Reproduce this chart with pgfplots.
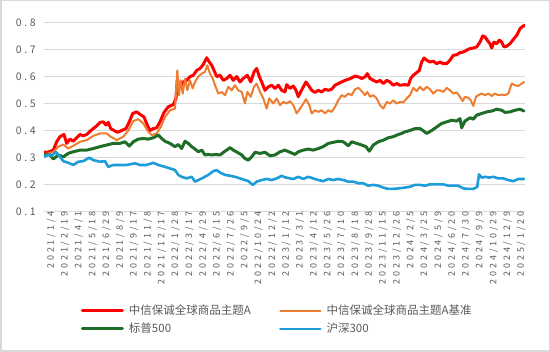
\documentclass[border=0pt]{standalone}
\usepackage{pgfplots}
\pgfplotsset{compat=1.18}
\usepackage{fontspec}
\setmainfont{Noto Sans CJK SC}
\newfontfamily\tickfont[LetterSpace=32]{Noto Sans CJK SC}
\newfontfamily\ytickfont[LetterSpace=26]{Noto Sans CJK SC}
\definecolor{cred}{HTML}{FF0000}
\definecolor{corange}{HTML}{ED7D31}
\definecolor{cgreen}{HTML}{1E6E28}
\definecolor{cblue}{HTML}{1C9DDA}
\definecolor{cgrid}{HTML}{D9D9D9}
\definecolor{ctext}{HTML}{595959}
\begin{document}
\begin{tikzpicture}
\useasboundingbox (0pt,0pt) rectangle (550pt,352pt);
\draw[cgrid, line width=1.5pt] (0.75pt,0.75pt) rectangle (549.25pt,351.25pt);
\begin{axis}[
  at={(44pt,140.7pt)}, anchor=south west,
  scale only axis, width=481pt, height=188.6pt,
  xmin=44, xmax=525, ymin=0.1, ymax=0.8,
  ytick={0.1,0.2,0.3,0.4,0.5,0.6,0.7,0.8},
  ymajorgrids, major grid style={cgrid, line width=1.2pt},
  axis line style={draw=none}, tick style={draw=none},
  /pgf/number format/assume math mode=true,
  yticklabel style={/pgf/number format/.cd, fixed, precision=1, fixed zerofill, /tikz/.cd, font=\ytickfont\fontsize{10.5}{12}\selectfont, text=ctext, anchor=east, inner sep=0pt, xshift=-8pt},
  xtick={44,57.83,71.66,85.49,99.32,113.15,126.98,140.81,154.64,168.47,182.3,196.13,209.96,223.79,237.62,251.45,265.28,279.11,292.94,306.77,320.6,334.43,348.26,362.09,375.92,389.75,403.58,417.41,431.24,445.07,458.9,472.73,486.56,500.39,514.22},
  xticklabels={2021/1/4,2021/2/19,2021/4/1,2021/5/18,2021/6/29,2021/8/9,2021/9/17,2021/11/8,2021/12/17,2022/1/28,2022/3/17,2022/4/29,2022/6/15,2022/7/26,2022/9/5,2022/10/24,2022/12/2,2023/1/12,2023/3/1,2023/4/12,2023/5/26,2023/7/10,2023/8/18,2023/9/28,2023/11/15,2023/12/26,2024/2/5,2024/3/25,2024/5/9,2024/6/20,2024/7/30,2024/9/9,2024/10/29,2024/12/9,2025/1/20},
  xticklabel style={rotate=90, anchor=east, inner sep=0pt, yshift=-7pt, font=\tickfont\fontsize{9}{11}\selectfont, text=ctext},
  legend columns=2,
  legend image code/.code={\draw[#1] (0pt,0pt) -- (40pt,0pt);},
  legend style={draw=none, fill=none, at={(0.0769,-0.498)}, anchor=north west, inner sep=0pt, outer sep=0pt, row sep=6.5pt,
    font=\fontsize{11.5}{13}\selectfont, text=ctext,
    nodes={inner sep=0pt, text height=9pt, text depth=2.5pt, anchor=west},
    /tikz/every odd column/.append style={column sep=5pt},
    /tikz/every even column/.append style={column sep=28pt}},
  every axis plot/.append style={line join=round, line cap=round},
]
\addplot[cred, line width=3pt] coordinates {
(44,0.319)(48.3,0.32)(53.3,0.327)(56.7,0.358)(60,0.377)(64,0.385)(66.7,0.352)(70,0.368)(73.3,0.36)(76.7,0.373)(80,0.385)(83.3,0.38)(86.7,0.385)(90,0.397)(93.3,0.407)(96.7,0.417)(100,0.43)(103.3,0.432)(106,0.42)(108.3,0.43)(110.7,0.407)(114,0.40)(117.3,0.393)(121.7,0.40)(126,0.407)(129.3,0.432)(132.7,0.463)(136.7,0.469)(140,0.46)(144,0.45)(147.3,0.42)(150,0.40)(153.3,0.407)(156.7,0.41)(160,0.432)(164,0.467)
(168.3,0.488)(173.3,0.496)(176,0.519)(177.3,0.586)(180,0.562)(183.3,0.58)(186.7,0.586)(190,0.60)(193.3,0.605)(196.7,0.623)(200,0.63)(203.3,0.645)(206.7,0.67)(209.3,0.654)(211.7,0.642)(214,0.623)(216.7,0.60)(220,0.605)(223.3,0.586)(226.7,0.593)(230,0.605)(233.3,0.586)(236.7,0.60)(240,0.58)(243.3,0.593)(247.3,0.605)(250.7,0.58)(254,0.617)(256.7,0.63)(259.3,0.60)(261.7,0.58)(265,0.549)(268.3,0.562)(271.7,0.568)(275,0.556)(278.3,0.568)(281.7,0.549)(285,0.543)
(286.7,0.57)(290,0.556)(293.3,0.565)(296,0.549)(298.3,0.525)(300.7,0.543)(303.3,0.562)(306,0.58)(308.3,0.568)(311.7,0.549)(315,0.541)(318.3,0.549)(321.7,0.543)(325,0.553)(328.3,0.549)(331.7,0.553)(335,0.568)(338.3,0.574)(341.7,0.58)(345,0.586)(348.3,0.59)(351.7,0.595)(355,0.602)(358.3,0.599)(361.7,0.593)(365,0.599)(367.3,0.611)(370,0.593)(373.3,0.586)(376.7,0.58)(380,0.586)(383.3,0.574)(386.7,0.586)(390,0.58)(393.3,0.568)(396.7,0.574)(400,0.568)
(405,0.57)(408.3,0.568)(410.7,0.593)(413.3,0.605)(416.7,0.615)(419.3,0.623)(421.7,0.654)(424,0.669)(426.7,0.661)(430,0.654)(433.3,0.657)(436.7,0.648)(440,0.654)(443.3,0.648)(446.7,0.648)(450,0.661)(453.3,0.679)(456.7,0.681)(460,0.689)(463.3,0.691)(466.7,0.698)(470,0.704)(473.3,0.706)(476.7,0.71)(480,0.728)(482.7,0.751)(485,0.747)(487.3,0.735)(490,0.722)(491.7,0.706)(494,0.728)(496.7,0.722)(499.3,0.735)(501.7,0.728)(504,0.71)(506.7,0.713)(510,0.722)(513.3,0.738)(516.7,0.753)(520,0.778)(523.3,0.788)(525,0.79)
};
\addlegendentry{中信保诚全球商品主题A}
\addplot[corange, line width=2pt] coordinates {
(44,0.31)(53.3,0.32)(58.3,0.34)(63.3,0.348)(68.3,0.333)(73.3,0.343)(80,0.358)(86.7,0.364)(93.3,0.38)(100,0.389)(106.7,0.389)(110.7,0.377)(116.7,0.364)(123.3,0.377)(128.3,0.40)(133.3,0.435)(138.3,0.442)(143.3,0.426)(148.3,0.395)(151.7,0.383)(156.7,0.389)(160.7,0.413)(165,0.45)
(170,0.475)(175,0.481)(177.3,0.623)(179,0.53)(180.7,0.586)(182.7,0.537)(185,0.593)(187.3,0.549)(190,0.586)(192.7,0.556)(195,0.58)(198.3,0.60)(201.7,0.611)(205,0.617)(207.3,0.642)(210,0.611)(212.7,0.593)(215,0.568)(218.3,0.537)(221.7,0.543)(225,0.531)(228.3,0.562)(231.7,0.549)(235,0.568)(238.3,0.549)(241.7,0.543)(245,0.50)(247.3,0.543)(250.7,0.525)(254,0.562)(256.7,0.574)(260,0.543)(263.3,0.519)(266.7,0.481)(269.3,0.519)(273.3,0.50)(276.7,0.519)(280,0.494)(283.3,0.506)
(286.7,0.50)(290,0.509)(293.3,0.494)(296.7,0.463)(300,0.481)(303.3,0.50)(306,0.516)(309.3,0.494)(311.7,0.463)(315,0.475)(318.3,0.469)(321.7,0.475)(325,0.463)(328.3,0.475)(331.7,0.469)(335,0.488)(338.3,0.512)(341.7,0.531)(345,0.525)(348.3,0.537)(351.7,0.531)(355,0.553)(358.3,0.558)(361.7,0.546)(365,0.531)(367.3,0.543)(370,0.525)(373.3,0.531)(376.7,0.519)(380,0.494)(383.3,0.481)(386.7,0.506)(390,0.50)(393.3,0.512)(396.7,0.50)(400,0.506)
(403.3,0.504)(406.7,0.519)(410,0.531)(413.3,0.558)(416.7,0.546)(420,0.562)(423.3,0.549)(426.7,0.562)(430,0.553)(433.3,0.537)(436.7,0.549)(440,0.549)(443.3,0.543)(446.7,0.558)(450,0.549)(453.3,0.537)(456.7,0.541)(460,0.525)(462.7,0.509)(465,0.525)(468.3,0.521)(470.7,0.512)(473.3,0.491)(476,0.525)(478.3,0.531)(481.7,0.537)(485,0.531)(488.3,0.537)(491.7,0.528)(495,0.537)(498.3,0.531)(501.7,0.533)(505,0.531)(508.3,0.537)(511.7,0.574)(515,0.568)(518.3,0.565)(521.7,0.574)(524,0.58)
};
\addlegendentry{中信保诚全球商品主题A基准}
\addplot[cgreen, line width=3pt] coordinates {
(44,0.31)(50,0.309)(53.3,0.294)(58.3,0.309)(63.3,0.302)(68.3,0.315)(73.3,0.321)(80,0.327)(86.7,0.327)(93.3,0.333)(100,0.34)(106.7,0.346)(113.3,0.352)(120,0.352)(125,0.358)(129.3,0.342)(133.3,0.358)(138.3,0.368)(143.3,0.37)(148.3,0.368)(153.3,0.373)(158.3,0.383)(161.7,0.37)
(165,0.36)(170,0.352)(175,0.34)(178.3,0.348)(181.7,0.333)(185,0.36)(188.3,0.352)(191.7,0.34)(195,0.331)(198.3,0.321)(201.7,0.327)(205,0.309)(208.3,0.311)(211.7,0.309)(215,0.311)(220,0.309)(225,0.323)(230,0.336)(233.3,0.327)(237.3,0.319)(241.7,0.309)(245,0.296)(248.3,0.29)(251.7,0.302)(255,0.319)(260,0.315)(265,0.319)(270,0.306)(275,0.309)(280,0.321)
(285,0.327)(290,0.319)(295,0.311)(298.3,0.321)(303.3,0.327)(308.3,0.331)(313.3,0.327)(318.3,0.333)(323.3,0.34)(328.3,0.352)(333.3,0.356)(338.3,0.36)(343.3,0.358)(348.3,0.343)(351.7,0.358)(356.7,0.352)(361.7,0.346)(366,0.34)(369.3,0.323)(373.3,0.346)(378.3,0.358)(383.3,0.364)(388.3,0.373)(393.3,0.377)(398.3,0.385)
(401.7,0.389)(405,0.395)(410,0.40)(415,0.407)(420,0.407)(424,0.397)(426.7,0.389)(431.7,0.40)(436.7,0.413)(441.7,0.426)(446.7,0.432)(451.7,0.438)(456.7,0.435)(460,0.444)(461.7,0.41)(465,0.435)(470,0.447)(473.3,0.442)(476.7,0.457)(481.7,0.463)(486.7,0.469)(491.7,0.472)(496.7,0.479)(501.7,0.475)(505,0.467)(510,0.469)(515,0.475)(520,0.479)(524,0.472)
};
\addlegendentry{标普500}
\addplot[cblue, line width=2.6pt] coordinates {
(44,0.302)(48.3,0.31)(51.7,0.307)(56,0.32)(60,0.302)(63.3,0.286)(68.3,0.28)(73.3,0.272)(78.3,0.284)(83.3,0.286)(89.3,0.299)(93.3,0.29)(100,0.284)(105,0.286)(108.3,0.265)(113.3,0.272)(120,0.272)(126.7,0.272)(135,0.278)(140,0.272)(146.7,0.272)(153.3,0.28)(158.3,0.272)
(160,0.27)(165,0.265)(170,0.259)(175,0.253)(178.3,0.235)(181.7,0.228)(186.7,0.222)(191.7,0.228)(195,0.21)(198.3,0.216)(203.3,0.225)(208.3,0.235)(213.3,0.249)(216.7,0.253)(220,0.244)(225,0.235)(230,0.232)(235,0.228)(240,0.222)(245,0.216)(248.3,0.212)(252.7,0.198)(256.7,0.21)(261.7,0.216)(266.7,0.22)(271.7,0.216)(276.7,0.222)(281.7,0.232)
(285,0.226)(290,0.222)(293.3,0.22)(298.3,0.228)(303.3,0.22)(308.3,0.228)(313.3,0.222)(318.3,0.216)(323.3,0.212)(328.3,0.22)(333.3,0.216)(338.3,0.22)(343.3,0.216)(348.3,0.21)(353.3,0.21)(358.3,0.204)(363.3,0.204)(368.3,0.195)(373.3,0.198)(378.3,0.195)(383.3,0.188)(388.3,0.183)(393.3,0.183)(398.3,0.185)
(405,0.188)(410,0.191)(415,0.198)(420,0.198)(425,0.195)(430,0.20)(436.7,0.20)(443.3,0.20)(448.3,0.195)(453.3,0.195)(458.3,0.195)(463.3,0.185)(468.3,0.183)(473.3,0.183)(477.3,0.191)(479,0.237)(481.7,0.225)(485,0.228)(489.3,0.225)(493.3,0.228)(498.3,0.222)(503.3,0.222)(508.3,0.216)(513.3,0.212)(518.3,0.22)(524,0.22)
};
\addlegendentry{沪深300}
\end{axis}
\end{tikzpicture}
\end{document}
